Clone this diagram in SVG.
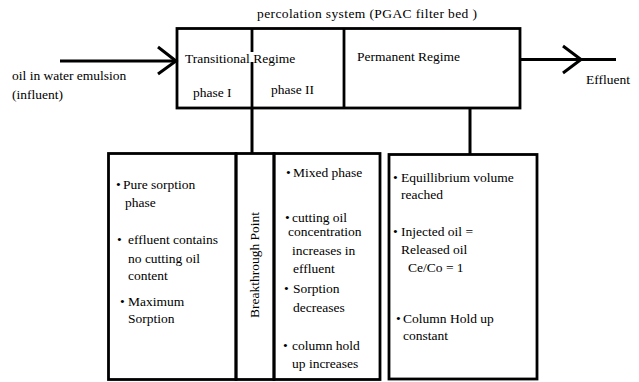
<svg xmlns="http://www.w3.org/2000/svg" width="639" height="382" viewBox="0 0 639 382">
<style>
.t{font-family:"Liberation Serif","Times New Roman",serif;font-size:13.5px;fill:#000}
.b{fill:none;stroke:#000;stroke-width:2.8}
.c{fill:none;stroke:#000;stroke-width:3;stroke-linecap:butt;stroke-linejoin:miter}
</style>
<rect width="639" height="382" fill="#fff"/>
<g id="title"><text class="t" x="257" y="18" textLength="220" lengthAdjust="spacing">percolation system (PGAC filter bed )</text></g>
<g id="input-label"><text class="t" x="12" y="80">oil in water emulsion</text><text class="t" x="12" y="99">(influent)</text></g>
<g id="output-label"><text class="t" x="586" y="84">Effluent</text></g>
<g id="filter-bed">
<rect class="b" x="177" y="28.5" width="343" height="79.5"/>
<line class="b" x1="252" y1="28.5" x2="252" y2="52"/>
<line class="b" x1="252" y1="62" x2="252" y2="108"/>
<line class="b" x1="344" y1="28.5" x2="344" y2="108"/>
<text class="t" x="185" y="63">Transitional Regime</text>
<text class="t" x="193" y="97">phase I</text>
<text class="t" x="271" y="94">phase II</text>
<text class="t" x="357" y="61">Permanent Regime</text>
</g>
<g id="phase1-box">
<rect class="b" x="108.5" y="153.5" width="127.5" height="226"/>
<text class="t"><tspan x="116" y="189">•</tspan><tspan x="123">Pure sorption</tspan></text>
<text class="t" x="125" y="207">phase</text>
<text class="t"><tspan x="117" y="244">•</tspan><tspan x="128">effluent contains</tspan></text>
<text class="t" x="128" y="263">no cutting oil</text>
<text class="t" x="128" y="280">content</text>
<text class="t"><tspan x="120" y="306">•</tspan><tspan x="128">Maximum</tspan></text>
<text class="t" x="128" y="323">Sorption</text>
</g>
<g id="breakthrough-box">
<rect class="b" x="236" y="153.5" width="38" height="226"/>
<text class="t" transform="translate(259 318) rotate(-90)" x="0" y="0">Breakthrough Point</text>
</g>
<g id="phase2-box">
<rect class="b" x="274" y="153.5" width="106" height="226"/>
<text class="t"><tspan x="286" y="177">•</tspan><tspan x="293">Mixed phase</tspan></text>
<text class="t"><tspan x="285" y="222">•</tspan><tspan x="292">cutting oil</tspan></text>
<text class="t" x="288" y="236">concentration</text>
<text class="t" x="292" y="255">increases in</text>
<text class="t" x="293" y="273">effluent</text>
<text class="t"><tspan x="284" y="293">•</tspan><tspan x="293">Sorption</tspan></text>
<text class="t" x="293" y="312">decreases</text>
<text class="t"><tspan x="283" y="350">•</tspan><tspan x="292">column hold</tspan></text>
<text class="t" x="292" y="368">up increases</text>
</g>
<g id="permanent-box">
<rect class="b" x="389" y="154.5" width="148" height="224.5"/>
<text class="t"><tspan x="393" y="182">•</tspan><tspan x="401">Equillibrium volume</tspan></text>
<text class="t" x="401" y="199">reached</text>
<text class="t"><tspan x="393" y="236">•</tspan><tspan x="401">Injected oil =</tspan></text>
<text class="t" x="401" y="254">Released oil</text>
<text class="t" x="408" y="272">Ce/Co = 1</text>
<text class="t"><tspan x="396" y="323">•</tspan><tspan x="403">Column Hold up</tspan></text>
<text class="t" x="403" y="340">constant</text>
</g>
<g id="connectors">
<line class="c" x1="60" y1="61" x2="176" y2="61"/>
<polyline class="c" points="158,47 176,61 158,74"/>
<line class="c" x1="520" y1="59.5" x2="616" y2="59.5"/>
<polyline class="c" points="563,46 581,59.5 563,73"/>
<line class="c" x1="252" y1="108" x2="252" y2="153"/>
<line class="c" x1="470" y1="108" x2="470" y2="154"/>
</g>
</svg>
